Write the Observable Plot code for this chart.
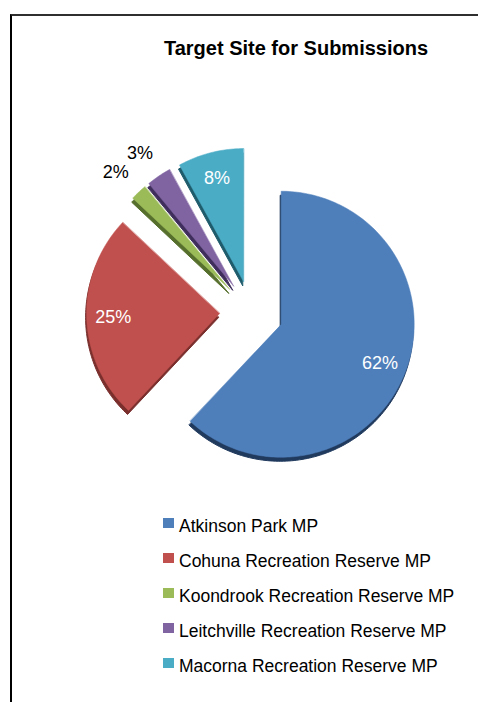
<!DOCTYPE html>
<html>
<head>
<meta charset="utf-8">
<script src="https://cdn.jsdelivr.net/npm/d3@7"></script>
<script src="https://cdn.jsdelivr.net/npm/@observablehq/plot@0.6"></script>
<style>
  html, body { margin: 0; padding: 0; background: #fff; overflow: hidden; width: 478px; height: 702px; }
  #page { position: relative; width: 478px; height: 702px; overflow: hidden;
          font-family: "Liberation Sans", Arial, sans-serif; color: #000; background: #fff; }
  #chart { position: absolute; left: 0; top: 0; width: 478px; height: 490px; overflow: hidden; }
  #chart svg { display: block; background: transparent; }
  #frame { position: absolute; left: 10px; top: 14px; width: 468px; height: 688px;
           border-top: 2px solid #2f2f2f; border-left: 2px solid #000; box-sizing: border-box; }
  #mask { position: absolute; left: 462px; top: 16px; width: 16px; height: 686px; background: #fff; z-index: 10; }
  #title { position: absolute; left: 96px; top: 38px; width: 400px; text-align: center;
           font-weight: bold; font-size: 20px; line-height: 20px; white-space: nowrap; }
  .item { position: absolute; left: 163px; height: 20px; line-height: 20px;
          font-size: 17.5px; padding-left: 16px; white-space: nowrap; }
  .sw { position: absolute; left: 0; top: 2px; width: 11px; height: 10px; }
</style>
</head>
<body>
<div id="page">
  <div id="chart"></div>
  <div id="title">Target Site for Submissions</div>
  <div id="legend"></div>
  <div id="frame"></div>
  <div id="mask"></div>
</div>
<script>
// ---- data ----
const names = [
  "Atkinson Park MP",
  "Cohuna Recreation Reserve MP",
  "Koondrook Recreation Reserve MP",
  "Leitchville Recreation Reserve MP",
  "Macorna Recreation Reserve MP"
];
const shares = [62, 25, 2, 3, 8];
const labels = ["62%", "25%", "2%", "3%", "8%"];
const colors = ["#4F7FBA", "#C0504D", "#9BBB59", "#8064A2", "#4BACC6"];
const shadows = ["#203a5e", "#7a2f2d", "#566f2c", "#3f2e5c", "#1e5b6b"];

// ---- geometry (unit radius pie) ----
const explode = 0.24;
const pie = d3.pie().sort(null).value(d => d)(shares);
const slices = pie.map((p, i) => {
  const mid = (p.startAngle + p.endAngle) / 2;
  const ox = explode * Math.sin(mid), oy = explode * Math.cos(mid);
  const n = Math.max(2, Math.ceil((p.endAngle - p.startAngle) / 0.02));
  const pts = [{x: ox, y: oy}];
  for (let k = 0; k <= n; k++) {
    const a = p.startAngle + (p.endAngle - p.startAngle) * k / n;
    pts.push({x: ox + Math.sin(a), y: oy + Math.cos(a)});
  }
  const inside = shares[i] >= 5;
  // inside labels at 0.8 r; outside labels pushed out by a text-box margin
  const lr = inside ? 0.8 : 1.13;
  const ex = inside ? 0 : 0.12, ey = inside ? 0 : 0.075;
  return {
    i, pts, inside,
    lx: ox + (lr + ex) * Math.sin(mid),
    ly: oy + (lr + ey) * Math.cos(mid),
    label: labels[i]
  };
});

const cx = 251, cy = 312, R = 133;
const font = "Liberation Sans, Arial, sans-serif";

const marks = [];
slices.forEach(s => marks.push(Plot.line(s.pts, {
  x: "x", y: "y", curve: "linear-closed",
  fill: shadows[s.i], stroke: shadows[s.i], strokeWidth: 1, dx: -1, dy: 4
})));
slices.forEach(s => marks.push(Plot.line(s.pts, {
  x: "x", y: "y", curve: "linear-closed",
  fill: colors[s.i], stroke: colors[s.i], strokeWidth: 0.5
})));
marks.push(Plot.text(slices.filter(s => s.inside), {
  x: "lx", y: "ly", text: "label", fill: "white", fontSize: 18, fontFamily: font
}));
marks.push(Plot.text(slices.filter(s => !s.inside), {
  x: "lx", y: "ly", text: "label", fill: "black", fontSize: 18, fontFamily: font
}));

const chart = Plot.plot({
  width: 478,
  height: 490,
  margin: 0,
  style: {background: "transparent", fontFamily: font},
  x: {domain: [-1, 1], range: [cx - R, cx + R], axis: null},
  y: {domain: [-1, 1], range: [cy + R, cy - R], axis: null},
  marks
});
document.getElementById("chart").appendChild(chart);

// ---- legend ----
const legend = document.getElementById("legend");
names.forEach((name, i) => {
  const it = document.createElement("div");
  it.className = "item";
  it.style.top = (516 + i * 35) + "px";
  const sw = document.createElement("span");
  sw.className = "sw";
  sw.style.background = colors[i];
  it.appendChild(sw);
  it.appendChild(document.createTextNode(name));
  legend.appendChild(it);
});
</script>
</body>
</html>
